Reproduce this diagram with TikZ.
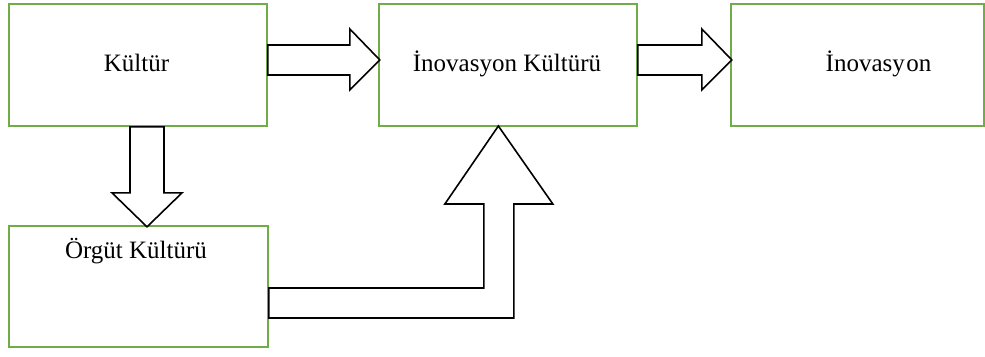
\documentclass[tikz,border=0pt]{standalone}
\usepackage{fontspec}
\setmainfont{Liberation Serif}
\usetikzlibrary{calc}
\definecolor{boxgreen}{HTML}{70AD47}
\begin{document}
\begin{tikzpicture}[x=1pt,y=-1pt,
  box/.style={draw=boxgreen,line width=1.7pt,rectangle,inner sep=0pt,
              minimum width=258pt,minimum height=122pt},
  boxtext/.style={font=\fontsize{25}{30}\selectfont,anchor=base,inner sep=0pt},
  fatarrow/.style={draw=black,fill=white,line width=1.6pt,line join=miter}]
\useasboundingbox (0,0) rectangle (985,356);

% boxes
\node[box] (kultur) at (138,65) {};
\node[box] (inokultur) at (508,65) {};
\node[box,minimum width=253pt] (ino) at (857.5,65) {};
\node[box,minimum width=259pt,minimum height=121pt] (orgut) at (138.5,286.5) {};

% texts
\node[boxtext] (tkultur) at ($(kultur.center)+(-1.5,6)$) {Kültür};
\node[boxtext] (tinokultur) at ($(inokultur.center)+(-1,6)$) {İnovasyon Kültürü};
\node[boxtext] (tino) at ($(ino.center)+(21,6)$) {İnovasy\kern1.5pt on};
\node[boxtext] (torgut) at ($(orgut.north)+(-2.5,33)$) {Örgüt Kültürü};

% block arrows
\draw[fatarrow] ($(kultur.east)+(0,-20)$) -- ++(82,0) -- ++(0,-16) -- ++(30,31)
  -- ++(-30,30) -- ++(0,-15) -- ++(-82,0) -- cycle;
\draw[fatarrow] ($(inokultur.east)+(0,-20)$) -- ++(64,0) -- ++(0,-16) -- ++(30,31)
  -- ++(-30,30) -- ++(0,-15) -- ++(-64,0) -- cycle;
\draw[fatarrow] ($(kultur.south)+(-8,0)$) -- ++(0,66) -- ++(-18,0) -- ++(35,34)
  -- ++(35,-34) -- ++(-18,0) -- ++(0,-66) -- cycle;
\draw[fatarrow] ($(orgut.east)+(0,1.5)$) -- ++(215,0) -- ++(0,-84) -- ++(-39,0)
  -- ++(53.5,-78) -- ++(54.5,78) -- ++(-39,0) -- ++(0,114) -- ++(-245,0) -- cycle;
\end{tikzpicture}
\end{document}
